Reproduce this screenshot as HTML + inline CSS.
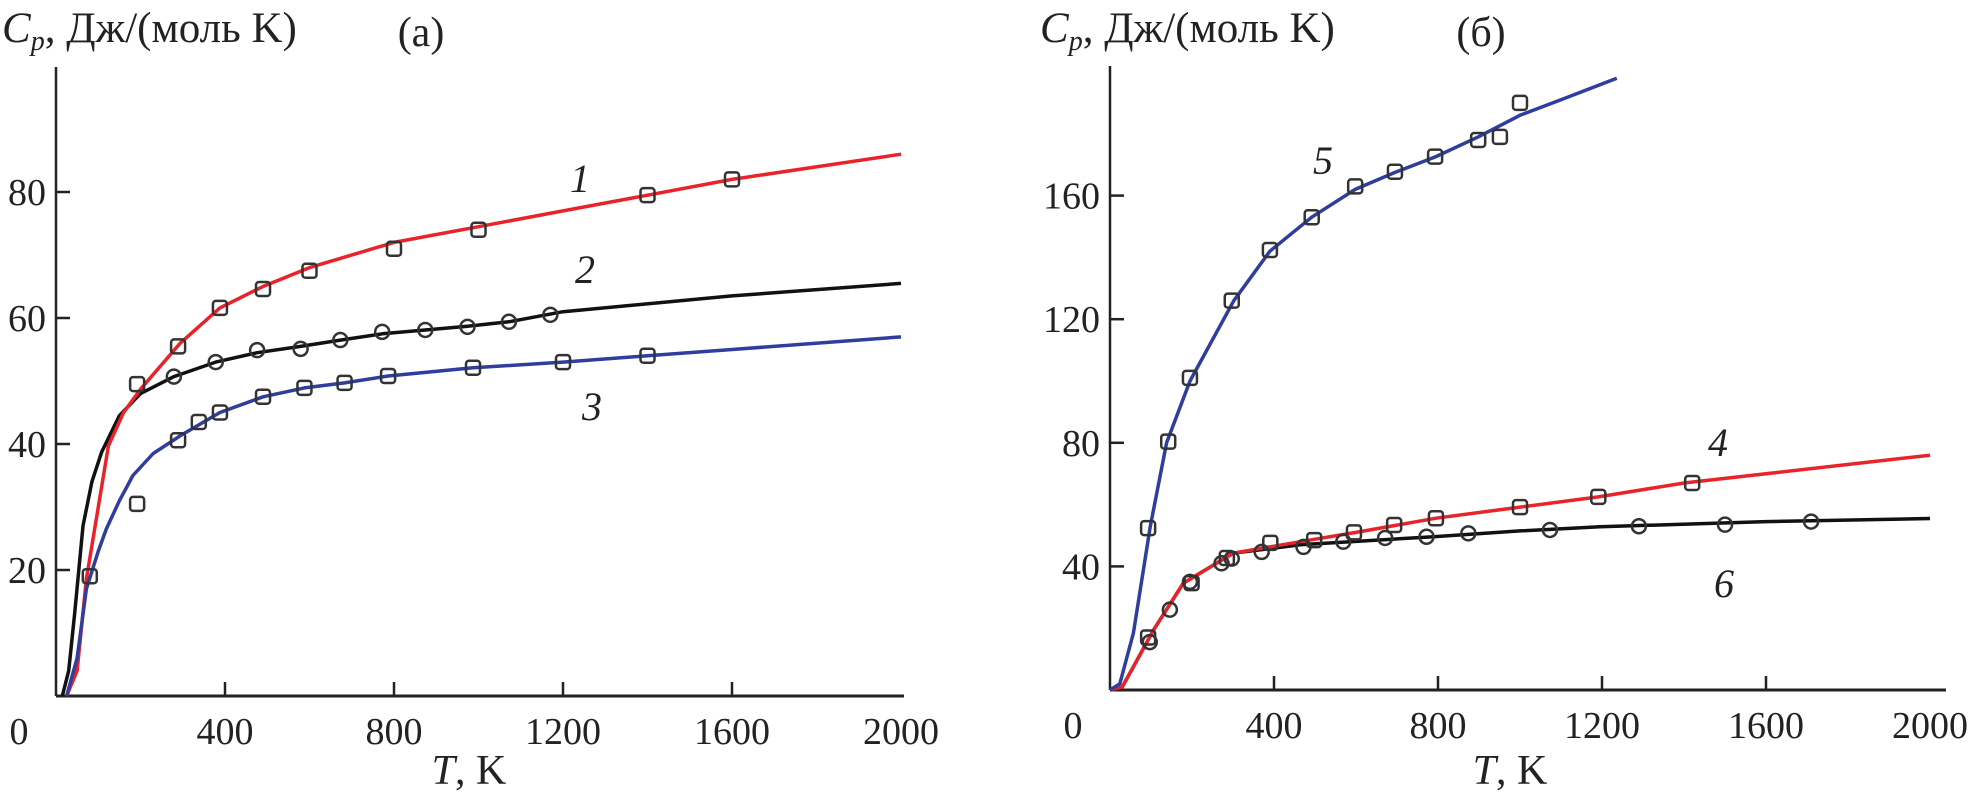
<!DOCTYPE html>
<html><head><meta charset="utf-8"><style>
body{margin:0;background:#fff}
svg{display:block;font-family:"Liberation Serif",serif}
</style></head><body>
<svg id="c" width="1978" height="799" viewBox="0 0 1978 799" xmlns="http://www.w3.org/2000/svg"></svg>
<script>
const xTicks=[0,400,800,1200,1600,2000];
const yTicksA=[20,40,60,80];
const yTicksB=[40,80,120,160];
// panel a
const c1T=[25,50,72,100,124,160,200,294,388,490,600,800,1000,1200,1400,1600,2000];
const c1V=[0,4,18.6,30,39.7,45,48.7,56,61.6,65,68,72,74.5,77,79.5,82,86];
const c2T=[15,30,44,64,85,108,150,200,279,378,476,579,673,772,874,974,1072,1200,1600,2000];
const c2V=[0,4,13,27,34,38.7,44.5,48,50.7,53,54.5,55.5,56.5,57.5,58.1,58.7,59.4,61,63.5,65.5];
const c3T=[25,50,72,100,119,150,182,230,294,388,490,588,683,786,987,1200,1400,1600,2000];
const c3V=[0,6,17,23,26.5,31,35,38.5,41.3,45,47.5,48.9,49.7,50.8,52.1,53,54,55,57];
const p1T=[80,192,289,388,490,600,800,1000,1400,1600];
const p1V=[19,49.5,55.5,61.6,64.6,67.5,71,74,79.5,82];
const p2T=[279,378,476,579,673,772,874,974,1072,1170];
const p2V=[50.7,53,54.9,55.1,56.5,57.8,58.1,58.6,59.4,60.5];
const p3T=[192,289,338,388,490,588,683,786,987,1200,1400];
const p3V=[30.5,40.6,43.5,45,47.5,48.9,49.7,50.8,52.1,53,54];
// panel b
const c5T=[0,24,57,98,138,195,302,390,492,598,695,793,898,1000,1100,1236];
const c5V=[0,2,18.4,52.8,80,100,126,142,153,162,167.5,172.5,179,186,191,198];
const c4T=[0,30,57,106,179,301,464,600,795,1000,1191,1400,1600,2000];
const c4V=[0,1,7.5,19.4,34.6,44.3,48,51,55.6,59.2,62.5,67,70,76];
const c6T=[0,30,57,106,179,301,464,789,1000,1195,1600,2000];
const c6V=[0,1,7.5,19.4,34.6,44.3,47,49.6,51.5,52.8,54.5,55.5];
const p5T=[93,142,195,297,390,492,598,695,793,898,951,1000];
const p5V=[52.4,80.4,101,126,142.4,153,163,167.7,172.6,178,179,190];
const p4T=[93,199,285,391,498,595,693,795,1000,1191,1420];
const p4V=[17,34.6,42.7,47.6,48.5,51,53.4,55.6,59.2,62.5,67];
const p6T=[97,146,195,272,297,370,472,569,671,772,874,1073,1290,1500,1710];
const p6V=[15.5,26,35,41,42.5,44.7,46.3,48,49.2,49.6,50.7,51.8,53,53.5,54.5];

const svg=document.getElementById('c');
const NS='http://www.w3.org/2000/svg';
function mk(tag,attrs,parent){const e=document.createElementNS(NS,tag);for(const k in attrs)e.setAttribute(k,attrs[k]);(parent||svg).appendChild(e);return e;}
function panel(x0,per400,axEnd,y0,perUnit,top,yTicks,name){
  const sx=t=>x0+t/400*per400;
  const sy=v=>y0-v*perUnit;
  const g=mk('g',{});
  
  
  const ya=mk('line',{x1:x0,y1:top,x2:x0,y2:y0,stroke:'#222','stroke-width':2.5},g);
  
  const xa=mk('line',{x1:x0,y1:y0,x2:axEnd,y2:y0,stroke:'#222','stroke-width':3},g);
  
  xTicks.forEach(t=>{
    if(t>0&&t<2000){const tk=mk('line',{x1:sx(t),y1:y0,x2:sx(t),y2:y0-14,stroke:'#222','stroke-width':2.5},g);
    }
    const lx=t===0?x0-37:sx(t);
    const tx=mk('text',{x:lx,y:y0+48,'font-size':38,'text-anchor':'middle',fill:'#222'},g);
    
    tx.textContent=t;
  });
  yTicks.forEach(v=>{
    const tk=mk('line',{x1:x0,y1:sy(v),x2:x0+14,y2:sy(v),stroke:'#222','stroke-width':2.5},g);
    
    const tx=mk('text',{x:x0-10,y:sy(v)+13,'font-size':38,'text-anchor':'end',fill:'#222'},g);
    
    tx.textContent=v;
  });
  return {sx,sy,g};
}
function curve(P,T,V,color,name){
  const pts=T.map((t,i)=>P.sx(t).toFixed(1)+','+P.sy(V[i]).toFixed(1)).join(' ');
  const l=mk('polyline',{points:pts,fill:'none',stroke:color,'stroke-width':3.5,'stroke-linejoin':'round'},P.g);
  
}
function sq(P,T,V,name){
  T.forEach((t,i)=>{
    const r=mk('rect',{x:P.sx(t)-7,y:P.sy(V[i])-7,width:14,height:14,rx:3,fill:'none',stroke:'#333','stroke-width':2.5},P.g);
    
  });
}
function circ(P,T,V,name){
  T.forEach((t,i)=>{
    const r=mk('circle',{cx:P.sx(t),cy:P.sy(V[i]),r:7,fill:'none',stroke:'#333','stroke-width':2.5},P.g);
    
  });
}
function label(x,y,txt,name,size,italic,anchor){
  const t=mk('text',{x:x,y:y,'font-size':size,'font-style':italic?'italic':'normal','text-anchor':anchor||'start',fill:'#222'});
  
  t.innerHTML=txt;return t;
}
const A=panel(56,169,904,696,6.3,67,yTicksA,'panel-a');
curve(A,c2T,c2V,'#111','curve-2');
curve(A,c1T,c1V,'#e8232a','curve-1');
curve(A,c3T,c3V,'#2f3d9e','curve-3');
sq(A,p1T,p1V,'points-1');circ(A,p2T,p2V,'points-2');sq(A,p3T,p3V,'points-3');
const B=panel(1110,164,1946,690,3.09,66,yTicksB,'panel-b');
curve(B,c6T,c6V,'#111','curve-6');
curve(B,c4T,c4V,'#e8232a','curve-4');
curve(B,c5T,c5V,'#2f3d9e','curve-5');
sq(B,p5T,p5V,'points-5');sq(B,p4T,p4V,'points-4');circ(B,p6T,p6V,'points-6');

label(2,42,'<tspan font-style="italic">C</tspan><tspan font-style="italic" font-size="28" dy="8">p</tspan><tspan dy="-8">, Дж/(моль K)</tspan>','y-axis-title-a',43);
label(1040,42,'<tspan font-style="italic">C</tspan><tspan font-style="italic" font-size="28" dy="8">p</tspan><tspan dy="-8">, Дж/(моль K)</tspan>','y-axis-title-b',43);
label(421,46,'(а)','panel-a-title',42,false,'middle');
label(1481,46,'(б)','panel-b-title',42,false,'middle');
label(469,784,'<tspan font-style="italic">T</tspan>, K','x-axis-title-a',42,false,'middle');
label(1510,784,'<tspan font-style="italic">T</tspan>, K','x-axis-title-b',42,false,'middle');
label(570,192,'1','label-1',40,true);
label(575,283,'2','label-2',40,true);
label(582,420,'3','label-3',40,true);
label(1313,174,'5','label-5',40,true);
label(1708,456,'4','label-4',40,true);
label(1714,597,'6','label-6',40,true);
</script>
</body></html>
